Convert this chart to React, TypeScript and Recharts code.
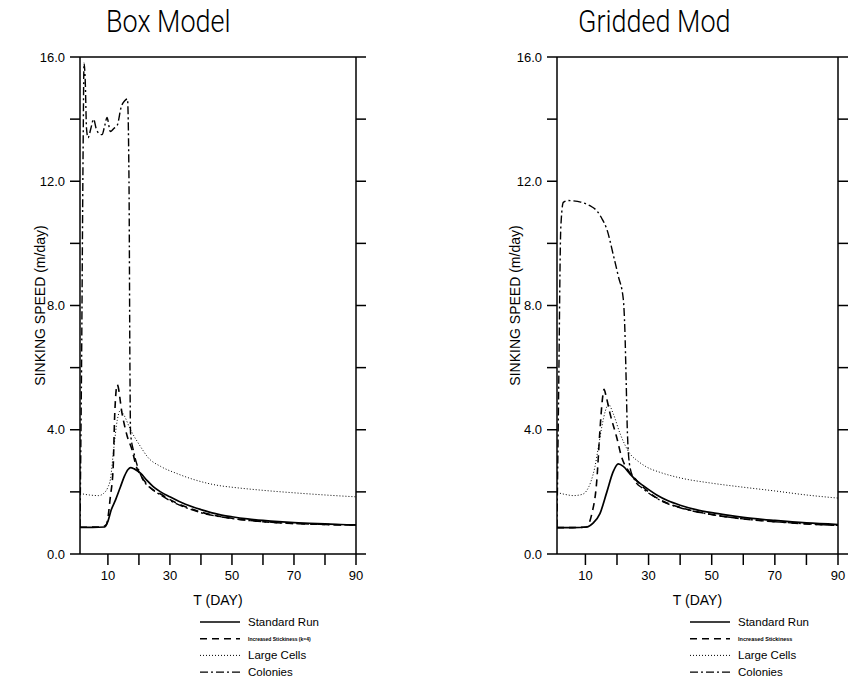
import React from 'react';
import { LineChart, Line, XAxis, YAxis, Legend } from 'recharts';

// axis ticks
const X_TICKS = [10, 20, 30, 40, 50, 60, 70, 80, 90];
const Y_TICKS = [0, 2, 4, 6, 8, 10, 12, 14, 16];

// Box Model curves, [day, m/day]
const boxStandard = [
  [1, 0.86], [5, 0.86], [9, 0.87], [10, 1.05], [11, 1.4], [12.5, 1.75], [14, 2.15], [15.3, 2.5],
  [16.5, 2.72], [17.3, 2.78], [18.5, 2.74], [20.5, 2.6], [22.5, 2.38], [24.7, 2.16], [27, 2.0],
  [30, 1.84], [35, 1.6], [40, 1.43], [46, 1.27], [50, 1.2], [55, 1.13], [60, 1.08], [65, 1.04],
  [70, 1.01], [75, 0.99], [80, 0.97], [85, 0.95], [90, 0.94],
];
const boxSticky = [
  [1, 0.86], [8, 0.87], [9.5, 0.95], [10.8, 1.85], [11.7, 2.8], [12.2, 4.5], [13, 5.45], [14.6, 4.5],
  [16.2, 3.8], [17.8, 3.35], [19.2, 2.8], [20.5, 2.55], [23, 2.2], [27, 1.93], [30, 1.75], [35, 1.52],
  [40, 1.35], [45, 1.23], [50, 1.15], [55, 1.09], [60, 1.04], [70, 0.98], [80, 0.95], [90, 0.93],
];
const boxLarge = [
  [1, 1.95], [4, 1.9], [7, 1.88], [8.6, 1.95], [10, 2.15], [10.8, 2.4], [11.9, 3.4], [13, 4.3],
  [14, 4.62], [15, 4.5], [17.3, 4.0], [20.5, 3.46], [23, 3.1], [27, 2.82], [32, 2.6], [37.6, 2.4],
  [46, 2.2], [50, 2.15], [60, 2.05], [70, 1.97], [80, 1.9], [90, 1.84],
];
const boxColonies = [
  [1, 0.86], [1.5, 6], [2.0, 13], [2.3, 15.8], [2.7, 15.2], [3.1, 13.7], [3.6, 13.4], [4.5, 13.7],
  [5.4, 14.0], [6.2, 13.7], [7, 13.55], [8.1, 13.5], [9, 13.8], [9.7, 14.05], [10.8, 13.6],
  [11.9, 13.7], [13, 13.8], [14.3, 14.4], [15.5, 14.6], [16.3, 14.65], [16.8, 12], [17.1, 6],
  [17.3, 3.9], [18.3, 3.3], [19.4, 2.87], [21, 2.45], [24, 2.1], [27, 1.9], [30, 1.72], [35, 1.5],
  [40, 1.33], [45, 1.22], [50, 1.14], [60, 1.04], [70, 0.98], [80, 0.95], [90, 0.93],
];

// Gridded Model curves
const gridStandard = [
  [1, 0.85], [6, 0.85], [10.4, 0.87], [12.5, 1.0], [14.6, 1.3], [16.8, 2.0], [18.8, 2.65],
  [20.4, 2.9], [22, 2.82], [24.1, 2.58], [26, 2.38], [28.3, 2.2], [32.6, 1.9], [36, 1.72],
  [40, 1.57], [45, 1.43], [50, 1.33], [55, 1.25], [60, 1.18], [70, 1.08], [80, 1.0], [90, 0.95],
];
const gridSticky = [
  [1, 0.85], [6, 0.85], [10.4, 0.87], [11.2, 1.0], [12, 1.28], [13.6, 2.36], [14.6, 3.98],
  [15.4, 5.0], [15.9, 5.3], [16.5, 5.1], [17.8, 4.52], [19.9, 3.76], [21.5, 3.11], [23.6, 2.68],
  [26.3, 2.36], [31.5, 1.88], [35, 1.68], [40, 1.5], [45, 1.37], [50, 1.27], [60, 1.13],
  [70, 1.04], [80, 0.97], [90, 0.92],
];
const gridLarge = [
  [1, 1.98], [3.5, 1.92], [6.2, 1.88], [9, 1.92], [10.4, 2.04], [11.8, 2.35], [13, 2.8],
  [14.2, 3.5], [15.2, 4.1], [16.3, 4.6], [17.3, 4.82], [18.8, 4.52], [21, 3.87], [24.1, 3.23],
  [26.5, 3.0], [29.4, 2.8], [33.6, 2.63], [40, 2.45], [50, 2.28], [60, 2.15], [70, 2.03],
  [80, 1.9], [90, 1.8],
];
const gridColonies = [
  [1, 0.85], [1.5, 5], [2.2, 10.5], [3, 11.32], [4.5, 11.38], [6.2, 11.37], [8.5, 11.33],
  [10.4, 11.26], [12, 11.18], [13.6, 11.05], [15.2, 10.8], [16.8, 10.45], [18.9, 9.6],
  [20.4, 8.95], [22, 8.2], [22.5, 7.2], [22.9, 5.6], [23.3, 3.9], [24.1, 2.8], [25.7, 2.36],
  [28, 2.12], [31.5, 1.86], [35, 1.66], [40, 1.49], [45, 1.36], [50, 1.27], [60, 1.13],
  [70, 1.04], [80, 0.97], [90, 0.92],
];

const toPoints = (pts: number[][]) => pts.map(([t, v]) => ({ t, v }));

const FONT = '"Liberation Sans", Arial, sans-serif';

const STYLES: Record<string, any> = {
  standard: { strokeWidth: 1.7 },
  sticky: { strokeDasharray: '7 5', strokeWidth: 1.6 },
  large: { strokeDasharray: '1 2', strokeWidth: 1 },
  colonies: { strokeDasharray: '8 3 2 3', strokeWidth: 1.4 },
};

const axisLine = { stroke: '#000', strokeWidth: 1.5 };

type Series = { key: string; name: string; pts: number[][] };

function makeLegend(series: Series[], stickyFont: number) {
  return () => (
    <svg width={170} height={70} style={{ overflow: 'visible' }}>
      {series.map((s, i) => {
        const y = 8 + i * 16.7;
        const sticky = s.key === 'sticky';
        return (
          <g key={s.key}>
            <line x1={0} x2={40} y1={y} y2={y} stroke="#000" {...STYLES[s.key]} />
            <text
              x={48}
              y={y}
              dominantBaseline="central"
              fontSize={sticky ? stickyFont : 11.5}
              fontWeight={sticky ? 'bold' : 'normal'}
              fill="#000"
            >
              {s.name}
            </text>
          </g>
        );
      })}
    </svg>
  );
}

type PanelProps = {
  left: number;
  title: string;
  titleLeft: number;
  yWidth: number;
  marginLeft: number;
  marginRight: number;
  legendLeft: number;
  stickyName: string;
  stickyFont: number;
  standard: number[][];
  sticky: number[][];
  large: number[][];
  colonies: number[][];
};

function Panel(p: PanelProps) {
  const series: Series[] = [
    { key: 'standard', name: 'Standard Run', pts: p.standard },
    { key: 'sticky', name: p.stickyName, pts: p.sticky },
    { key: 'large', name: 'Large Cells', pts: p.large },
    { key: 'colonies', name: 'Colonies', pts: p.colonies },
  ];
  return (
    <div style={{ position: 'absolute', left: p.left, top: 0, width: 425, height: 684 }}>
      <div
        style={{
          position: 'absolute',
          left: p.titleLeft,
          top: 6,
          fontFamily: 'Roboto, "Liberation Sans", sans-serif',
          fontWeight: 300,
          fontSize: 31,
          lineHeight: 1,
          whiteSpace: 'nowrap',
          color: '#000',
          transform: 'scaleX(0.87)',
          transformOrigin: 'left top',
        }}
      >
        {p.title}
      </div>
      <LineChart
        width={425}
        height={684}
        margin={{ top: 45, right: p.marginRight, bottom: 38, left: p.marginLeft }}
      >
        <XAxis
          xAxisId="b"
          dataKey="t"
          type="number"
          domain={[1, 90]}
          allowDataOverflow
          ticks={X_TICKS}
          interval={0}
          height={92}
          tickSize={11}
          tickMargin={6}
          axisLine={axisLine}
          tickLine={axisLine}
          tick={{ fill: '#000', fontSize: 13 }}
          tickFormatter={(v: number) => (v % 20 === 10 ? String(v) : '')}
          label={{ value: 'T (DAY)', position: 'center', fill: '#000', fontSize: 14 }}
        />
        <XAxis
          xAxisId="t"
          orientation="top"
          type="number"
          domain={[1, 90]}
          allowDataOverflow
          ticks={X_TICKS}
          interval={0}
          height={12}
          tickSize={10}
          axisLine={axisLine}
          tickLine={axisLine}
          tickFormatter={() => ''}
        />
        <YAxis
          yAxisId="l"
          type="number"
          domain={[0, 16]}
          allowDataOverflow
          ticks={Y_TICKS}
          interval={0}
          width={p.yWidth}
          tickSize={10}
          tickMargin={5}
          axisLine={axisLine}
          tickLine={axisLine}
          tick={{ fill: '#000', fontSize: 13 }}
          tickFormatter={(v: number) => (v % 4 === 0 ? v.toFixed(1) : '')}
          label={{ value: 'SINKING SPEED (m/day)', angle: -90, position: 'center', fill: '#000', fontSize: 14 }}
        />
        <YAxis
          yAxisId="r"
          orientation="right"
          type="number"
          domain={[0, 16]}
          allowDataOverflow
          ticks={Y_TICKS}
          interval={0}
          width={12}
          tickSize={10}
          axisLine={axisLine}
          tickLine={axisLine}
          tickFormatter={() => ''}
        />
        {series.map((s) => (
          <Line
            key={s.key}
            xAxisId="b"
            yAxisId="l"
            data={toPoints(s.pts)}
            dataKey="v"
            name={s.name}
            type="monotone"
            stroke="#000"
            dot={false}
            isAnimationActive={false}
            {...STYLES[s.key]}
          />
        ))}
        <Legend
          layout="vertical"
          align="center"
          verticalAlign="middle"
          content={makeLegend(series, p.stickyFont)}
          wrapperStyle={{ left: p.legendLeft, top: 614, width: 170, height: 70 }}
        />
      </LineChart>
    </div>
  );
}

export default function App() {
  return (
    <div
      style={{
        position: 'absolute',
        left: 0,
        top: 0,
        width: 850,
        height: 684,
        background: '#fff',
        fontFamily: FONT,
      }}
    >
      <Panel
        left={0}
        title="Box Model"
        titleLeft={106}
        yWidth={80}
        marginLeft={0}
        marginRight={57}
        legendLeft={200}
        stickyName="Increased Stickiness (k=4)"
        stickyFont={5}
        standard={boxStandard}
        sticky={boxSticky}
        large={boxLarge}
        colonies={boxColonies}
      />
      <Panel
        left={425}
        title="Gridded Mod"
        titleLeft={153}
        yWidth={84}
        marginLeft={48}
        marginRight={0}
        legendLeft={265}
        stickyName="Increased Stickiness"
        stickyFont={5.5}
        standard={gridStandard}
        sticky={gridSticky}
        large={gridLarge}
        colonies={gridColonies}
      />
    </div>
  );
}
